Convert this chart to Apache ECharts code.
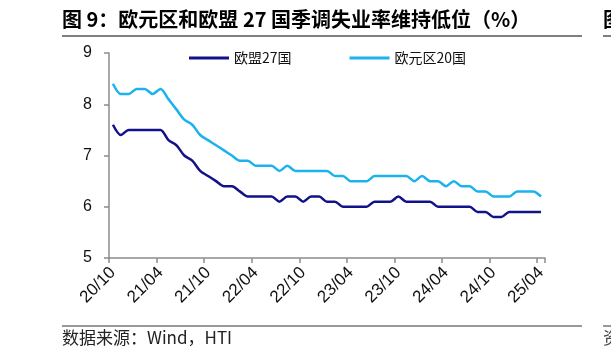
<!DOCTYPE html>
<html>
<head>
<meta charset="utf-8">
<script src="https://cdn.jsdelivr.net/npm/echarts@6/dist/echarts.min.js"></script>
<style>
html,body{margin:0;padding:0;background:#fff;}
#c{width:611px;height:357px;}
</style>
</head>
<body>
<div id="c"></div>
<script>
// Month categories, 2020/10 to 2025/04
var categories = [
  '20/10','20/11','20/12',
  '21/01','21/02','21/03','21/04','21/05','21/06','21/07','21/08','21/09','21/10','21/11','21/12',
  '22/01','22/02','22/03','22/04','22/05','22/06','22/07','22/08','22/09','22/10','22/11','22/12',
  '23/01','23/02','23/03','23/04','23/05','23/06','23/07','23/08','23/09','23/10','23/11','23/12',
  '24/01','24/02','24/03','24/04','24/05','24/06','24/07','24/08','24/09','24/10','24/11','24/12',
  '25/01','25/02','25/03','25/04'
];
// EU27 seasonally adjusted unemployment rate (%)
var eu27 = [
  7.6,7.4,7.5,
  7.5,7.5,7.5,7.5,7.3,7.2,7.0,6.9,6.7,6.6,6.5,6.4,
  6.4,6.3,6.2,6.2,6.2,6.2,6.1,6.2,6.2,6.1,6.2,6.2,
  6.1,6.1,6.0,6.0,6.0,6.0,6.1,6.1,6.1,6.2,6.1,6.1,
  6.1,6.1,6.0,6.0,6.0,6.0,6.0,5.9,5.9,5.8,5.8,5.9,
  5.9,5.9,5.9,5.9
];
// Euro area 20 seasonally adjusted unemployment rate (%)
var ea20 = [
  8.4,8.2,8.2,
  8.3,8.3,8.2,8.3,8.1,7.9,7.7,7.6,7.4,7.3,7.2,7.1,
  7.0,6.9,6.9,6.8,6.8,6.8,6.7,6.8,6.7,6.7,6.7,6.7,
  6.7,6.6,6.6,6.5,6.5,6.5,6.6,6.6,6.6,6.6,6.6,6.5,
  6.6,6.5,6.5,6.4,6.5,6.4,6.4,6.3,6.3,6.2,6.2,6.2,
  6.3,6.3,6.3,6.2
];
var seriesNames = ['欧盟27国', '欧元区20国'];
var yTicks = [5, 6, 7, 8, 9];

var titleText = '图 9：欧元区和欧盟 27 国季调失业率维持低位（%）';
var sourceText = '数据来源：Wind，HTI';

var chart = echarts.init(document.getElementById('c'), null, {renderer: 'canvas'});
var cjk = '"Noto Sans CJK SC", "Liberation Sans", sans-serif';
var lat = '"Liberation Sans", Arial, sans-serif';

chart.setOption({
  animation: false,
  backgroundColor: '#ffffff',
  grid: {left: 109, right: 66, top: 53, bottom: 99, containLabel: false},
  legend: {
    data: seriesNames,
    left: 184, top: 46,
    itemGap: 58,
    itemWidth: 40, itemHeight: 3,
    icon: 'rect',
    textStyle: {fontFamily: cjk, fontSize: 14, color: '#111'}
  },
  xAxis: {
    type: 'category',
    data: categories,
    boundaryGap: true,
    axisLine: {lineStyle: {color: '#8c8c8c', width: 1.5}},
    axisTick: {show: true, interval: 5, length: 5, inside: false, lineStyle: {color: '#8c8c8c', width: 1.5}},
    axisLabel: {interval: 5, rotate: 45, margin: 12, fontFamily: lat, fontSize: 17, color: '#111'},
    splitLine: {show: false}
  },
  yAxis: {
    type: 'value',
    min: yTicks[0], max: yTicks[yTicks.length - 1], interval: 1,
    axisLine: {show: true, lineStyle: {color: '#8c8c8c', width: 1.5}},
    axisTick: {show: true, length: 5, lineStyle: {color: '#8c8c8c', width: 1.5}},
    axisLabel: {margin: 17, fontFamily: lat, fontSize: 16, color: '#111'},
    splitLine: {show: false}
  },
  series: [
    {
      name: seriesNames[0], type: 'line', data: eu27,
      smooth: 0.3, symbol: 'none',
      lineStyle: {color: '#12128a', width: 2.5},
      itemStyle: {color: '#12128a'}
    },
    {
      name: seriesNames[1], type: 'line', data: ea20,
      smooth: 0.3, symbol: 'none',
      lineStyle: {color: '#1bb2ee', width: 2.5},
      itemStyle: {color: '#1bb2ee'}
    }
  ],
  graphic: [
    {type: 'text', left: 62, top: 9, style: {text: titleText, font: 'bold 20px ' + cjk, fill: '#000'}},
    {type: 'line', shape: {x1: 62, y1: 36, x2: 582, y2: 36}, style: {stroke: '#555', lineWidth: 1.5}},
    {type: 'text', left: 603, top: 9, style: {text: '图', font: 'bold 20px ' + cjk, fill: '#000'}},
    {type: 'line', shape: {x1: 603, y1: 36, x2: 611, y2: 36}, style: {stroke: '#555', lineWidth: 1.5}},
    {type: 'line', shape: {x1: 62, y1: 326, x2: 582, y2: 326}, style: {stroke: '#777', lineWidth: 1.5}},
    {type: 'line', shape: {x1: 603, y1: 326, x2: 611, y2: 326}, style: {stroke: '#777', lineWidth: 1.5}},
    {type: 'text', left: 62, top: 329, style: {text: sourceText, font: '17px ' + cjk, fill: '#222'}},
    {type: 'text', left: 603, top: 329, style: {text: '资', font: '17px ' + cjk, fill: '#444'}}
  ]
});
</script>
</body>
</html>
